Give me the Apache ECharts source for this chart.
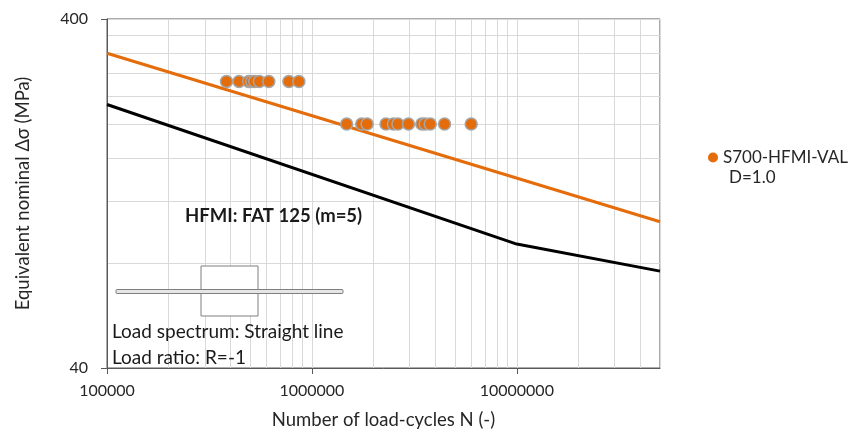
<!DOCTYPE html>
<html>
<head>
<meta charset="utf-8">
<script src="https://cdn.jsdelivr.net/npm/echarts@6/dist/echarts.min.js"></script>
<style>
html,body{margin:0;padding:0;background:#fff;}
#chart{width:862px;height:435px;}
</style>
</head>
<body>
<div id="chart"></div>
<script>
// ---- data ----
const seriesName = 'S700-HFMI-VAL D=1.0';
// test points: [cycles N, stress range (MPa)]
const testCycles1 = [383000, 441000, 492000, 509000, 526000, 554000, 616000, 772000, 864000];
const testStress1 = [265, 265, 265, 265, 265, 265, 265, 265, 265];
const testCycles2 = [1478000, 1750000, 1860000, 2300000, 2500000, 2630000, 2960000, 3440000, 3570000, 3780000, 4440000, 5990000];
const testStress2 = [200, 200, 200, 200, 200, 200, 200, 200, 200, 200, 200, 200];
// fitted (orange) line
const fitCycles = [100000, 50000000];
const fitStress = [319, 105];
// HFMI FAT 125 design curve (m=5, knee at 1e7, m=9 beyond)
const fatCycles = [100000, 10000000, 50000000];
const fatStress = [227.6, 90.6, 75.8];
// axes
const xMin = 100000, xMax = 50000000;
const yMin = 40, yMax = 400;
const xTickLabels = [100000, 1000000, 10000000];
const yTickLabels = [40, 400];
const xGridValues = [100000,200000,300000,400000,500000,600000,700000,800000,900000,
  1000000,2000000,3000000,4000000,5000000,6000000,7000000,8000000,9000000,
  10000000,20000000,30000000,40000000,50000000];
const yGridValues = [40,80,120,160,200,240,280,320,360,400];
const xTitle = 'Number of load-cycles N (-)';
const yTitle = 'Equivalent nominal Δσ (MPa)';
const curveLabel = 'HFMI: FAT 125 (m=5)';
const spectrumText = 'Load spectrum: Straight line';
const ratioText = 'Load ratio: R=-1';

// ---- build ----
const FONT = 'Lato';
const pts = [];
testCycles1.forEach((c, i) => pts.push([c, testStress1[i]]));
testCycles2.forEach((c, i) => pts.push([c, testStress2[i]]));
const fitData = fitCycles.map((c, i) => [c, fitStress[i]]);
const fatData = fatCycles.map((c, i) => [c, fatStress[i]]);

const chart = echarts.init(document.getElementById('chart'));
const gridColor = '#d9d9d9';
const axisColor = '#595959';
const labelColor = '#262626';

chart.setOption({
  animation: false,
  textStyle: { fontFamily: FONT },
  grid: { left: 107, top: 19, right: 202, bottom: 66, show: true, borderColor: axisColor, borderWidth: 1, containLabel: false },
  xAxis: [
    {
      type: 'log', logBase: 10, min: xMin, max: xMax,
      axisLine: { show: true, lineStyle: { color: axisColor, width: 1 } },
      axisTick: { show: true, customValues: xTickLabels, length: 6, lineStyle: { color: axisColor } },
      axisLabel: { customValues: xTickLabels, formatter: v => String(Math.round(v)), margin: 15, fontSize: 16, color: labelColor, fontFamily: FONT },
      splitLine: { show: false },
      name: xTitle, nameLocation: 'middle', nameGap: 43,
      nameTextStyle: { fontSize: 18.5, color: labelColor, fontFamily: FONT }
    },
    {
      type: 'log', logBase: 10, min: xMin, max: xMax, position: 'bottom',
      axisLine: { show: false },
      axisTick: { show: false, customValues: xGridValues },
      axisLabel: { show: false },
      splitLine: { show: true, lineStyle: { color: gridColor, width: 1 } }
    }
  ],
  yAxis: [
    {
      type: 'log', logBase: 10, min: yMin, max: yMax,
      axisLine: { show: true, lineStyle: { color: axisColor, width: 1 } },
      axisTick: { show: true, customValues: yTickLabels, length: 6, lineStyle: { color: axisColor } },
      axisLabel: { customValues: yTickLabels, formatter: v => String(Math.round(v)), margin: 19, fontSize: 16, color: labelColor, fontFamily: FONT },
      splitLine: { show: false },
      name: yTitle, nameLocation: 'middle', nameGap: 74, nameRotate: 90,
      nameTextStyle: { fontSize: 18.5, color: labelColor, fontFamily: FONT }
    },
    {
      type: 'log', logBase: 10, min: yMin, max: yMax, position: 'left',
      axisLine: { show: false },
      axisTick: { show: false, customValues: yGridValues },
      axisLabel: { show: false },
      splitLine: { show: true, lineStyle: { color: gridColor, width: 1 } }
    }
  ],
  legend: {
    show: true,
    data: [{ name: seriesName, icon: 'circle', itemStyle: { color: '#E46C0A', borderWidth: 0 } }],
    left: 708, top: 149,
    padding: 0,
    orient: 'vertical',
    itemWidth: 10, itemHeight: 10, itemGap: 4,
    formatter: () => '{a|S700-HFMI-VAL}\n{b|D=1.0}',
    textStyle: {
      fontFamily: FONT, fontSize: 17, color: labelColor,
      padding: [20, 0, 0, 0],
      rich: {
        a: { fontFamily: FONT, fontSize: 17, color: labelColor, lineHeight: 20 },
        b: { fontFamily: FONT, fontSize: 17, color: labelColor, lineHeight: 20, padding: [0, 0, 0, 6] }
      }
    }
  },
  series: [
    {
      name: 'HFMI FAT 125', type: 'line', data: fatData, xAxisIndex: 0, yAxisIndex: 0,
      showSymbol: false, symbol: 'none', lineStyle: { color: '#000000', width: 3 }, z: 3, silent: true
    },
    {
      name: 'Fit', type: 'line', data: fitData, xAxisIndex: 0, yAxisIndex: 0,
      showSymbol: false, symbol: 'none', lineStyle: { color: '#E46C0A', width: 3 }, z: 3, silent: true
    },
    {
      name: seriesName, type: 'scatter', data: pts, xAxisIndex: 0, yAxisIndex: 0,
      symbol: 'circle', symbolSize: 12,
      itemStyle: { color: '#E46C0A', borderColor: '#A6A6A6', borderWidth: 1.5, opacity: 1 }, z: 4
    }
  ],
  graphic: [
    { type: 'text', left: 185, top: 207, z: 10,
      style: { text: curveLabel, font: 'bold 18.5px ' + FONT, fill: '#1a1a1a' } },
    { type: 'rect', shape: { x: 201, y: 266, width: 57, height: 50 }, z: 10,
      style: { fill: '#ffffff', stroke: '#7f7f7f', lineWidth: 1 } },
    { type: 'rect', shape: { x: 116, y: 289.5, width: 227, height: 4, r: 1 }, z: 11,
      style: { fill: '#e6e6e6', stroke: '#7f7f7f', lineWidth: 1 } },
    { type: 'text', left: 112, top: 322, z: 10,
      style: { text: spectrumText, font: '19px ' + FONT, fill: '#1a1a1a' } },
    { type: 'text', left: 112, top: 348, z: 10,
      style: { text: ratioText, font: '19px ' + FONT, fill: '#1a1a1a' } }
  ]
});
</script>
</body>
</html>
